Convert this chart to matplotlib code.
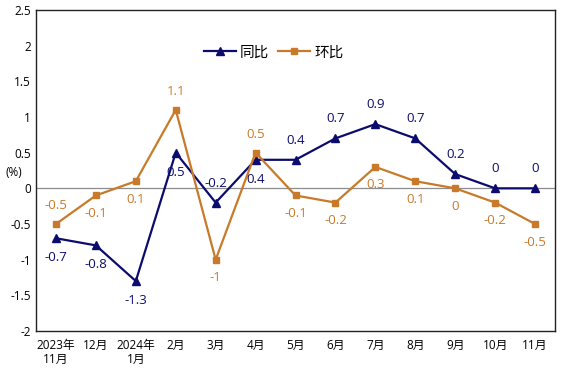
import matplotlib.pyplot as plt

plt.rcParams['font.family'] = ['Open Sans', 'Noto Sans CJK SC', 'DejaVu Sans']

# 月份标签
months = ['2023年\n11月', '12月', '2024年\n1月', '2月', '3月', '4月', '5月',
          '6月', '7月', '8月', '9月', '10月', '11月']
# 同比 / 环比 (%)
yoy = [-0.7, -0.8, -1.3, 0.5, -0.2, 0.4, 0.4, 0.7, 0.9, 0.7, 0.2, 0, 0]
mom = [-0.5, -0.1, 0.1, 1.1, -1, 0.5, -0.1, -0.2, 0.3, 0.1, 0, -0.2, -0.5]
yoy_txt = ['-0.7', '-0.8', '-1.3', '0.5', '-0.2', '0.4', '0.4', '0.7', '0.9', '0.7', '0.2', '0', '0']
mom_txt = ['-0.5', '-0.1', '0.1', '1.1', '-1', '0.5', '-0.1', '-0.2', '0.3', '0.1', '0', '-0.2', '-0.5']
# label above (1) or below (-1)
yoy_pos = [-1, -1, -1, -1, 1, -1, 1, 1, 1, 1, 1, 1, 1]
mom_pos = [1, -1, -1, 1, -1, 1, -1, -1, -1, -1, -1, -1, -1]

navy = '#0c0c6e'
orange = '#c87a2a'

fig = plt.figure(figsize=(5.74, 3.74), dpi=100)
ax = fig.add_axes([36 / 574, 1 - 331 / 374, 519 / 574, 321 / 374])

x = list(range(len(months)))
ax.axhline(0, color='#8c8c8c', lw=0.9, zorder=1)
ax.plot(x, yoy, color=navy, lw=1.6, marker='^', ms=6, label='同比', zorder=3)
ax.plot(x, mom, color=orange, lw=1.6, marker='s', ms=4.5, label='环比', zorder=3)

for i in x:
    ax.annotate(yoy_txt[i], (i, yoy[i]), xytext=(0, 14 * yoy_pos[i]), textcoords='offset points',
                ha='center', va='center', fontsize=9.5, color=navy)
    ax.annotate(mom_txt[i], (i, mom[i]), xytext=(0, 13 * mom_pos[i]), textcoords='offset points',
                ha='center', va='center', fontsize=9.5, color=orange)

ax.set_xlim(-0.5, len(months) - 0.5)
ax.set_ylim(-2, 2.5)
ax.set_yticks([-2, -1.5, -1, -0.5, 0, 0.5, 1, 1.5, 2, 2.5])
ax.set_yticklabels(['-2', '-1.5', '-1', '-0.5', '0', '0.5', '1', '1.5', '2', '2.5'])
ax.set_xticks(x)
ax.set_xticklabels(months, linespacing=1.1)
ax.tick_params(axis='both', length=0, labelsize=8.5)
ax.tick_params(axis='x', pad=6)
for s in ax.spines.values():
    s.set_color('#222222')
    s.set_linewidth(1.0)

fig.text(5 / 574, 1 - 172 / 374, '(%)', fontsize=8.5, va='center', ha='left')

ax.legend(loc='upper center', bbox_to_anchor=(0.458, 0.93), ncol=2, frameon=False,
          fontsize=10.5, handlelength=2.2, handletextpad=0.3, columnspacing=0.6)

fig.savefig('out.png', dpi=100)
